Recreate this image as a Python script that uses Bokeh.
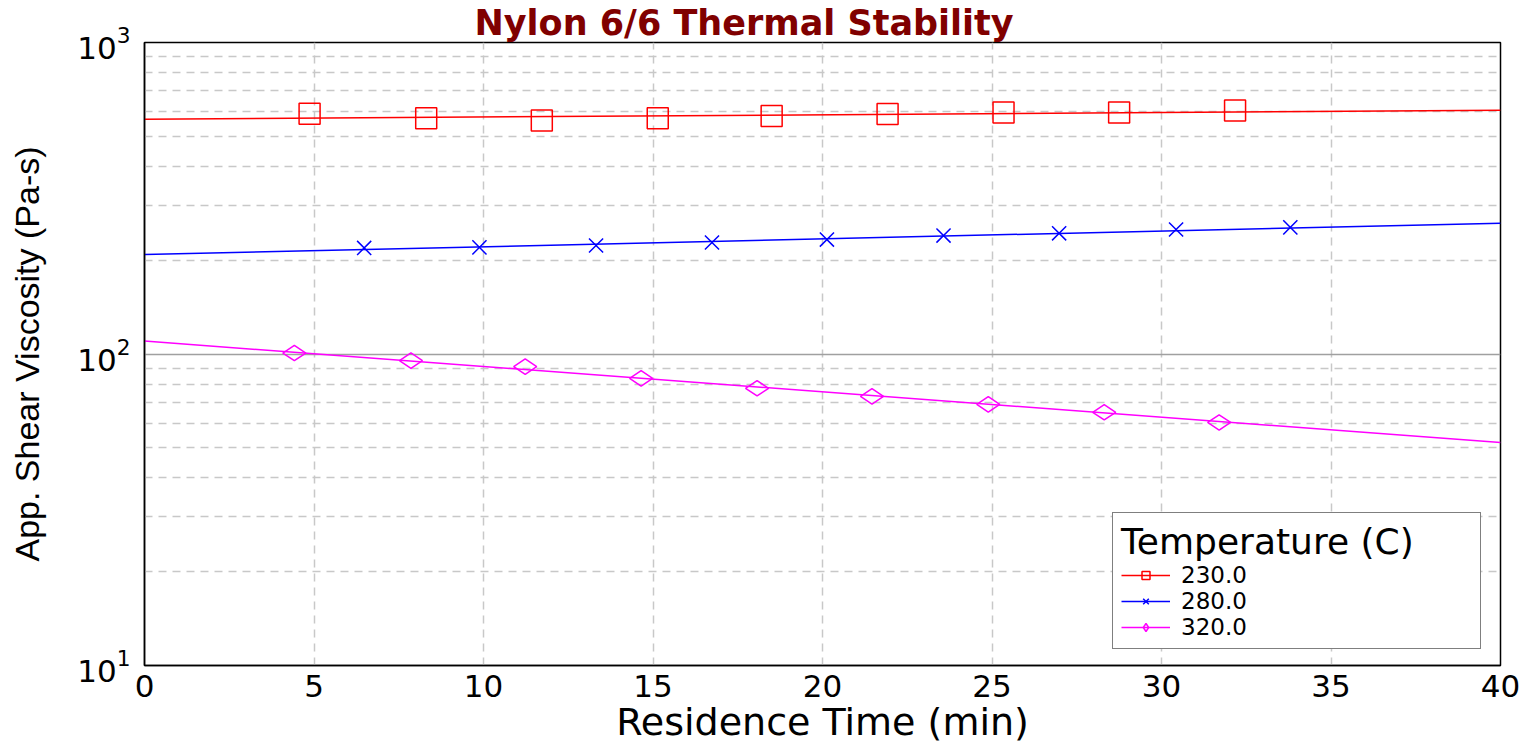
from bokeh.plotting import figure
from bokeh.models import FixedTicker, Legend, LegendItem, Range1d
from bokeh.embed import file_html
from bokeh.resources import INLINE

# Residence time (min) and apparent shear viscosity (Pa-s) at each melt temperature
t230 = [4.87, 8.31, 11.72, 15.14, 18.50, 21.92, 25.34, 28.75, 32.17]
v230 = [591, 571, 562, 571, 581, 590, 596, 596, 605]

t280 = [6.48, 9.88, 13.32, 16.74, 20.13, 23.57, 26.98, 30.43, 33.80]
v280 = [219, 220, 223, 228, 233, 240, 244, 251, 255]

t320 = [4.42, 7.86, 11.23, 14.65, 18.07, 21.46, 24.89, 28.31, 31.70]
v320 = [100.7, 95.2, 91.1, 83.5, 77.6, 73.1, 68.9, 65.0, 60.3]

# Exponential trend lines (straight on the log axis), given by their end values
fit_t = [0, 40]
fit230 = [567, 606]
fit280 = [208.5, 263]
fit320 = [110, 52]

x_ticks = [0, 5, 10, 15, 20, 25, 30, 35, 40]
y_ticks = [10, 100, 1000]
y_minor = [20, 30, 40, 50, 60, 70, 80, 90, 200, 300, 400, 500, 600, 700, 800, 900]

SANS = "Liberation Sans"
WIDE = "DejaVu Sans"

p = figure(
    width=1538, height=747,
    y_axis_type="log",
    x_range=Range1d(0, 40), y_range=Range1d(10, 1000),
    output_backend="svg", toolbar_location=None,
    min_border_left=144, min_border_right=38,
    min_border_top=42, min_border_bottom=82,
    title="Nylon 6/6 Thermal Stability",
)

p.title.text_font = WIDE
p.title.text_font_size = "35px"
p.title.text_font_style = "bold"
p.title.text_color = "#800000"
p.title.align = "left"
p.title.offset = 330
p.title.standoff = 0

p.outline_line_color = "black"
p.outline_line_width = 1.5
p.background_fill_color = "white"
p.border_fill_color = "white"

p.xaxis.ticker = FixedTicker(ticks=x_ticks)
p.yaxis.ticker = FixedTicker(ticks=y_ticks, minor_ticks=y_minor)

for ax in (p.xaxis[0], p.yaxis[0]):
    ax.major_tick_line_color = None
    ax.minor_tick_line_color = None
    ax.axis_line_color = "black"
    ax.axis_line_width = 1.5
    ax.major_label_text_font = WIDE
    ax.major_label_text_font_size = "31px"
    ax.major_label_text_color = "black"
    ax.axis_label_text_font_style = "normal"
    ax.axis_label_text_color = "black"

p.xaxis.axis_label = "Residence Time (min)"
p.xaxis.axis_label_text_font = WIDE
p.xaxis.axis_label_text_font_size = "38px"
p.xaxis.major_label_standoff = 3
p.xaxis.axis_label_standoff = 0

p.yaxis.axis_label = "App. Shear Viscosity (Pa-s)"
p.yaxis.axis_label_text_font = SANS
p.yaxis.axis_label_text_font_size = "34px"
p.yaxis.major_label_standoff = 8
p.yaxis.axis_label_standoff = 28

p.xgrid.grid_line_color = "#c8c8c8"
p.xgrid.grid_line_dash = "8 6"
p.xgrid.grid_line_width = 1.5

p.ygrid.grid_line_color = "#a0a0a0"
p.ygrid.grid_line_width = 1.5
p.ygrid.minor_grid_line_color = "#c8c8c8"
p.ygrid.minor_grid_line_dash = "8 6"
p.ygrid.minor_grid_line_width = 1.5

series = [
    ("230.0", t230, v230, fit230, "#ff0000", dict(marker="square", size=21, angle=0)),
    ("280.0", t280, v280, fit280, "#0000ff", dict(marker="x", size=20, angle=0)),
    ("320.0", t320, v320, fit320, "#ff00ff", dict(marker="diamond", size=23, angle=1.5708)),
]

items = []
for label, tx, vy, fit, color, mk in series:
    ln = p.line(fit_t, fit, line_color=color, line_width=1.5)
    sc = p.scatter(tx, vy, marker=mk["marker"], size=mk["size"], angle=mk["angle"],
                   line_color=color, line_width=1.5, fill_color=None)
    items.append(LegendItem(label=label, renderers=[ln, sc]))

legend = Legend(
    items=items,
    title="Temperature (C)",
    location=(968, 16),
    padding=8,
    spacing=0,
    border_line_color="black",
    border_line_width=1.5,
    background_fill_color="white",
    background_fill_alpha=1.0,
    title_text_font=WIDE,
    title_text_font_size="36px",
    title_text_font_style="normal",
    title_text_color="black",
    title_standoff=0,
    label_text_font=WIDE,
    label_text_font_size="23px",
    label_text_color="black",
    label_height=23,
    label_width=291,
    glyph_width=49,
    glyph_height=20,
    label_standoff=11,
)
p.add_layout(legend)

open("out.html", "w").write(file_html(p, INLINE))
